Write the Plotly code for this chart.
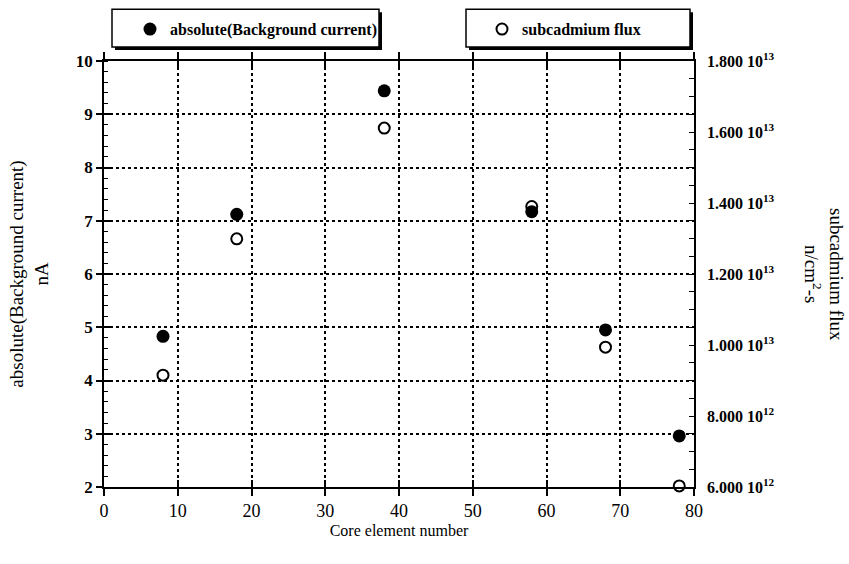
import plotly.graph_objects as go

# ---- data ----
core_element = [8, 18, 38, 58, 68, 78]
background_current = [4.83, 7.12, 9.44, 7.17, 4.95, 2.96]
subcadmium_flux = [9.15e12, 12.99e12, 16.11e12, 13.9e12, 9.94e12, 6.03e12]
right_tickvals = [6e12, 8e12, 1.0e13, 1.2e13, 1.4e13, 1.6e13, 1.8e13]
right_ticktext = ["6.000 10<sup>12</sup>", "8.000 10<sup>12</sup>", "1.000 10<sup>13</sup>",
                  "1.200 10<sup>13</sup>", "1.400 10<sup>13</sup>", "1.600 10<sup>13</sup>",
                  "1.800 10<sup>13</sup>"]

W, H = 849, 564
L, R, T, B = 104, 694, 59, 487
PW, PH = R - L, B - T
SERIF = "Liberation Serif"


def px(x):
    return (x - L) / PW


def py(y):
    return (B - y) / PH


fig = go.Figure()
fig.add_trace(go.Scatter(
    x=core_element, y=background_current, mode="markers",
    name="absolute(Background current)",
    marker=dict(symbol="circle", size=13, color="black"),
    cliponaxis=False, legend="legend"))
fig.add_trace(go.Scatter(
    x=core_element, y=subcadmium_flux, mode="markers", yaxis="y2",
    name="subcadmium flux",
    marker=dict(symbol="circle-open", size=11, color="black", line=dict(width=2, color="black")),
    cliponaxis=False, legend="legend2"))
# invisible trace carrying the overlay axes used for crossing ticks
fig.add_trace(go.Scatter(x=[], y=[], xaxis="x3", yaxis="y3", showlegend=False, hoverinfo="skip"))

tick_font_b = dict(family=SERIF, size=17, color="black", weight="bold")

shapes = []
for (x0, y0, x1, y1) in [(112, 7, 379, 45), (466, 7, 690, 45)]:
    shapes.append(dict(type="rect", xref="paper", yref="paper",
                       x0=px(x0 + 3), x1=px(x1 + 3), y0=py(y1 + 3), y1=py(y0 + 3),
                       fillcolor="black", line=dict(width=0), layer="above"))
    shapes.append(dict(type="rect", xref="paper", yref="paper",
                       x0=px(x0), x1=px(x1), y0=py(y1), y1=py(y0),
                       fillcolor="white", line=dict(width=1.5, color="black"), layer="above"))

fig.update_layout(
    width=W, height=H,
    margin=dict(l=L, r=W - R, t=T, b=H - B),
    paper_bgcolor="white", plot_bgcolor="white",
    font=dict(family=SERIF, color="black"),
    showlegend=True,
    shapes=shapes,
    legend=dict(x=px(130), y=py(27), xanchor="left", yanchor="middle",
                bgcolor="rgba(0,0,0,0)", borderwidth=0,
                font=dict(family=SERIF, size=16, color="black", weight="bold")),
    legend2=dict(x=px(482), y=py(27), xanchor="left", yanchor="middle",
                 bgcolor="rgba(0,0,0,0)", borderwidth=0,
                 font=dict(family=SERIF, size=16, color="black", weight="bold")),
    xaxis=dict(range=[0, 80], dtick=10, tick0=0, ticks="outside", ticklen=7, tickwidth=1.5,
               tickcolor="black", showline=True, linecolor="black", linewidth=1.5, mirror="ticks",
               showgrid=True, gridcolor="black", griddash="dot", gridwidth=1.5,
               zeroline=False, tickfont=dict(family=SERIF, size=18, color="black"),
               title=dict(text="Core element number", font=dict(family=SERIF, size=16, color="black"),
                          standoff=4)),
    xaxis3=dict(range=[0, 80], dtick=10, tick0=0, overlaying="x", ticks="inside", ticklen=7,
                tickwidth=1.5, tickcolor="black", showline=True, linecolor="black", linewidth=1.5,
                mirror="ticks", showgrid=False, zeroline=False, showticklabels=False),
    yaxis=dict(range=[2, 10], dtick=1, tick0=0, ticks="outside", ticklen=6, tickwidth=1.5,
               tickcolor="black", showline=True, linecolor="black", linewidth=1.5,
               showgrid=True, gridcolor="black", griddash="dot", gridwidth=1.5, zeroline=False,
               minor=dict(dtick=0.2, ticks="inside", ticklen=4, tickwidth=1, tickcolor="black",
                          showgrid=False),
               tickfont=tick_font_b,
               title=dict(text="absolute(Background current)<br>nA",
                          font=dict(family=SERIF, size=19, color="black"), standoff=22)),
    yaxis3=dict(range=[2, 10], dtick=1, tick0=0, overlaying="y", ticks="inside", ticklen=6,
                tickwidth=1.5, tickcolor="black", showline=False, showgrid=False, zeroline=False,
                showticklabels=False),
    yaxis2=dict(range=[6e12, 1.8e13], overlaying="y", side="right", tickvals=right_tickvals,
                ticktext=right_ticktext, ticks="inside", ticklen=5, tickwidth=1,
                tickcolor="black", showline=True, linecolor="black", linewidth=1.5,
                showgrid=False, zeroline=False, ticklabelstandoff=8,
                minor=dict(dtick=5e11, tick0=0, ticks="inside", ticklen=5, tickwidth=1,
                           tickcolor="black", showgrid=False),
                tickfont=dict(family=SERIF, size=16, color="black", weight="bold")),
    annotations=[dict(xref="paper", yref="paper", x=px(824), y=0.5, xanchor="center",
                      yanchor="middle", textangle=90, showarrow=False,
                      text="subcadmium flux<br>n/cm<sup>2</sup>-s",
                      font=dict(family=SERIF, size=19, color="black"))],
)

fig.write_html("out.html")
